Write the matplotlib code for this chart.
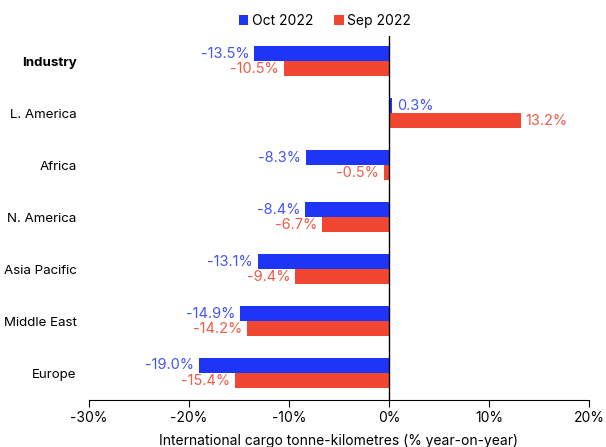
import numpy as np
import matplotlib.pyplot as plt

plt.rcParams['font.family'] = ['Inter', 'DejaVu Sans']

regions = ['Europe', 'Middle East', 'Asia Pacific', 'N. America', 'Africa', 'L. America', 'Industry']
oct_2022 = [-19.0, -14.9, -13.1, -8.4, -8.3, 0.3, -13.5]
sep_2022 = [-15.4, -14.2, -9.4, -6.7, -0.5, 13.2, -10.5]
x_ticks = [-30, -20, -10, 0, 10, 20]

blue = '#1f35f5'
red = '#f04632'
blue_txt = '#4455f2'
red_txt = '#f05a48'

fig = plt.figure(figsize=(6.06, 4.47), dpi=100)
ax = fig.add_axes([0.1469, 0.105, 0.825, 0.814])

y = np.arange(len(regions))
h = 0.29
bars_oct = ax.barh(y + h / 2, oct_2022, height=h, color=blue, label='Oct 2022')
bars_sep = ax.barh(y - h / 2, sep_2022, height=h, color=red, label='Sep 2022')

# value labels next to the bar ends
for bars, vals, col in [(bars_oct, oct_2022, blue_txt), (bars_sep, sep_2022, red_txt)]:
    for b, v in zip(bars, vals):
        yc = b.get_y() + b.get_height() / 2
        off = 3.5 if v >= 0 else -3.5
        ax.annotate(f'{v:.1f}%', (v, yc), xytext=(off, 0), textcoords='offset points',
                    ha='left' if v >= 0 else 'right', va='center', color=col, fontsize=10.5)

ax.axvline(0, color='black', linewidth=1)
ax.set_xlim(-30, 20)
ax.set_ylim(-0.52, 6.48)
ax.set_xticks(x_ticks)
ax.set_xticklabels([f'{t}%' for t in x_ticks], fontsize=10)
ax.set_yticks(y)
ax.set_yticklabels(regions, fontsize=9.6)
ax.get_yticklabels()[-1].set_fontweight('bold')
ax.tick_params(axis='y', length=0, pad=9)
ax.tick_params(axis='x', length=5, direction='out', pad=3)
for s in ['top', 'right', 'left']:
    ax.spines[s].set_visible(False)
ax.set_xlabel('International cargo tonne-kilometres (% year-on-year)', fontsize=10, labelpad=6)

ax.legend(loc='lower center', bbox_to_anchor=(0.472, 1.0), ncol=2, frameon=False, fontsize=10,
          handlelength=0.7, handleheight=0.7, handletextpad=0.25, columnspacing=1.5,
          borderaxespad=0.2)

fig.savefig('out.png', dpi=100)
